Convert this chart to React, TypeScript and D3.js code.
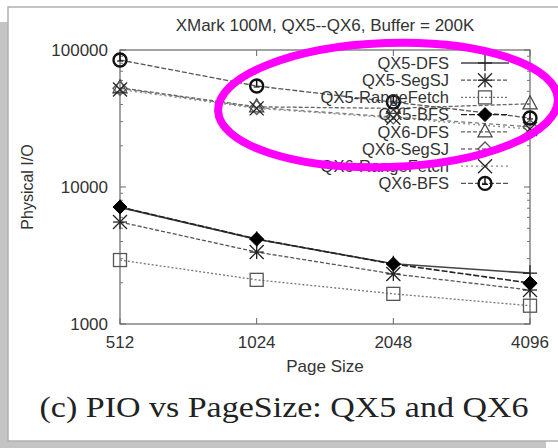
import React from "react";
import * as d3 from "d3";

const pageSizes = ["512", "1024", "2048", "4096"];
const seriesNames = [
  "QX5-DFS", "QX5-SegSJ", "QX5-RangeFetch", "QX5-BFS",
  "QX6-DFS", "QX6-SegSJ", "QX6-RangeFetch", "QX6-BFS",
];
const qx5Dfs = [7100, 4150, 2750, 2350];
const qx5SegSJ = [5550, 3350, 2320, 1770];
const qx5RangeFetch = [2930, 2100, 1660, 1360];
const qx5Bfs = [7140, 4170, 2740, 1990];
const qx6Dfs = [53000, 38500, 37500, 40500];
const qx6SegSJ = [52500, 38000, 32500, 27500];
const qx6RangeFetch = [51500, 37500, 32000, 26500];
const qx6Bfs = [84500, 54600, 41700, 31900];
const yTicks = [1000, 10000, 100000];

const seriesValues = [qx5Dfs, qx5SegSJ, qx5RangeFetch, qx5Bfs, qx6Dfs, qx6SegSJ, qx6RangeFetch, qx6Bfs];
const markers = ["plus", "star", "square", "fdiamond", "triangle", "diamond", "cross", "circle"];
const dashes = ["none", "4,2", "2,2", "6,2", "4,2", "4,3", "2,3", "5,2"];
const lineColors = ["#444", "#555", "#777", "#222", "#666", "#777", "#888", "#555"];

const W = 558, H = 448;
const X0 = 120, X1 = 530, Y0 = 50, Y1 = 324;
const FONT = "'Liberation Sans', Arial, sans-serif";

function Marker({ type, x, y }: { type: string; x: number; y: number }) {
  const s = 7;
  const st = { stroke: "#222", strokeWidth: 1.3, fill: "none" } as any;
  switch (type) {
    case "plus":
      return <g {...st}><line x1={x - s} x2={x + s} y1={y} y2={y} /><line x1={x} x2={x} y1={y - s - 1} y2={y + s + 1} /></g>;
    case "star":
      return <g {...st}><line x1={x - s} x2={x + s} y1={y} y2={y} /><line x1={x} x2={x} y1={y - s} y2={y + s} />
        <line x1={x - s} x2={x + s} y1={y - s} y2={y + s} /><line x1={x - s} x2={x + s} y1={y + s} y2={y - s} /></g>;
    case "square":
      return <rect x={x - 6.5} y={y - 6.5} width={13} height={13} {...st} stroke="#555" />;
    case "fdiamond":
      return <path d={`M${x},${y - 7}L${x + 7},${y}L${x},${y + 7}L${x - 7},${y}Z`} fill="#000" stroke="#000" />;
    case "triangle":
      return <path d={`M${x},${y - 8}L${x + 7},${y + 5}L${x - 7},${y + 5}Z`} {...st} stroke="#444" />;
    case "diamond":
      return <path d={`M${x},${y - 7}L${x + 7},${y}L${x},${y + 7}L${x - 7},${y}Z`} {...st} stroke="#555" />;
    case "cross":
      return <g {...st}><line x1={x - s} x2={x + s} y1={y - s} y2={y + s} /><line x1={x - s} x2={x + s} y1={y + s} y2={y - s} /></g>;
    case "circle":
      return <g><circle cx={x} cy={y} r={6.5} fill="none" stroke="#111" strokeWidth={2.4} />
        <line x1={x} x2={x} y1={y - 6} y2={y + 1} stroke="#111" strokeWidth={1.5} />
        <line x1={x - 3} x2={x + 3} y1={y + 1} y2={y + 1} stroke="#111" strokeWidth={1.2} /></g>;
  }
  return null;
}

export default function App() {
  const x = d3.scalePoint<string>().domain(pageSizes).range([X0, X1]);
  const y = d3.scaleLog().domain([1000, 100000]).range([Y1, Y0]);
  const line = d3.line<number>().x((_, i) => x(pageSizes[i]) as number).y((d) => y(d));

  const minor: number[] = [];
  for (const dec of [1000, 10000]) for (let k = 2; k <= 9; k++) minor.push(dec * k);

  const legendX = 449, legendY0 = 63, legendDy = 17.2;

  return (
    <svg width={W} height={H} style={{ position: "absolute", left: 0, top: 0, display: "block" }}>
      <rect x={0} y={0} width={W} height={H} fill="#fff" />
      <rect x={0} y={22} width={546} height={426} fill="#c4c4c4" />
      <rect x={8} y={7} width={560} height={434} fill="#fff" stroke="#b0b0b0" strokeWidth={1.5} />

      <text x={325} y={31} textAnchor="middle" fontFamily={FONT} fontSize={17} fill="#333">XMark 100M, QX5--QX6, Buffer = 200K</text>

      {/* frame */}
      <rect x={X0} y={Y0} width={X1 - X0} height={Y1 - Y0} fill="none" stroke="#666" strokeWidth={1.2} />
      {yTicks.map((t) => (
        <g key={t}>
          <line x1={X0} x2={X0 + 6} y1={y(t)} y2={y(t)} stroke="#666" />
          <line x1={X1} x2={X1 - 6} y1={y(t)} y2={y(t)} stroke="#666" />
          <text x={X0 - 12} y={y(t)} dy="0.35em" textAnchor="end" fontFamily={FONT} fontSize={17} fill="#333">{t}</text>
        </g>
      ))}
      {minor.map((t) => (
        <g key={t}>
          <line x1={X0} x2={X0 + 3} y1={y(t)} y2={y(t)} stroke="#777" />
          <line x1={X1} x2={X1 - 3} y1={y(t)} y2={y(t)} stroke="#777" />
        </g>
      ))}
      {pageSizes.map((p) => (
        <g key={p}>
          <line x1={x(p)} x2={x(p)} y1={Y1} y2={Y1 - 6} stroke="#666" />
          <line x1={x(p)} x2={x(p)} y1={Y0} y2={Y0 + 6} stroke="#666" />
          <text x={x(p)} y={348} textAnchor="middle" fontFamily={FONT} fontSize={17} fill="#333">{p}</text>
        </g>
      ))}
      <text x={325} y={372} textAnchor="middle" fontFamily={FONT} fontSize={17} fill="#333">Page Size</text>
      <text transform="translate(33,187) rotate(-90)" textAnchor="middle" fontFamily={FONT} fontSize={16} fill="#333">Physical I/O</text>

      {/* series */}
      {seriesValues.map((vals, si) => (
        <path key={si} d={line(vals) as string} fill="none" stroke={lineColors[si]} strokeWidth={si === 3 || si === 0 ? 1.6 : 1.3}
          strokeDasharray={dashes[si] === "none" ? undefined : dashes[si]} />
      ))}
      {seriesValues.map((vals, si) => (
        <g key={si}>
          {vals.map((v, i) => <Marker key={i} type={markers[si]} x={x(pageSizes[i]) as number} y={y(v)} />)}
        </g>
      ))}

      {/* legend */}
      {seriesNames.map((n, i) => {
        const ly = legendY0 + i * legendDy;
        return (
          <g key={n}>
            <text x={legendX} y={ly} dy="0.35em" textAnchor="end" fontFamily={FONT} fontSize={16.5} fill="#333">{n}</text>
            <line x1={461} x2={509} y1={ly} y2={ly} stroke={lineColors[i]} strokeWidth={1.3}
              strokeDasharray={dashes[i] === "none" ? undefined : dashes[i]} />
            <Marker type={markers[i]} x={485} y={ly} />
          </g>
        );
      })}

      <text x={284} y={417} textAnchor="middle" fontFamily="'Liberation Serif', 'DejaVu Serif', serif" fontSize={29} fill="#222"
        textLength={489} lengthAdjust="spacingAndGlyphs">(c) PIO vs PageSize: QX5 and QX6</text>

      <ellipse cx={388} cy={105} rx={170} ry={62} fill="none" stroke="#ff00ff" strokeWidth={8} transform="rotate(-2,388,105)" />
    </svg>
  );
}
